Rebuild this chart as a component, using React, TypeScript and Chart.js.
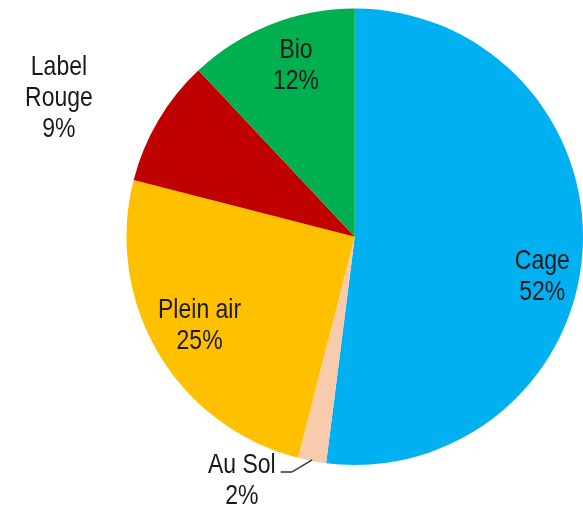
import React, { useEffect, useRef } from "react";
import { Chart, registerables } from "chart.js";

Chart.register(...registerables);

const categories = ["Cage", "Au Sol", "Plein air", "Label Rouge", "Bio"];
const labelLines = [["Cage"], ["Au Sol"], ["Plein air"], ["Label", "Rouge"], ["Bio"]];
const values = [52, 2, 25, 9, 12];
const colors = ["#00B0F0", "#F8CBAD", "#FFC000", "#C00000", "#00B050"];

// label placement (style): radius factor & angle offset (deg) relative to slice middle
const labelLayout = [
  { r: 0.84, dAngle: 8.4, leader: null as null | { r: number; dAngle: number; tail: number } },
  { r: 1.18, dAngle: 14, leader: { r: 1.067, dAngle: 4.2, tail: 11 } },
  { r: 0.785, dAngle: 0.6, leader: null },
  { r: 1.43, dAngle: -5.6, leader: null },
  { r: 0.79, dAngle: 2.6, leader: null },
];

const FONT = '23px "Liberation Sans", Arial, sans-serif';
const LINE_H = 31;
const STRETCH_Y = 1.2;

const labelPlugin = {
  id: "sliceLabels",
  afterDatasetsDraw(chart: any) {
    const ctx = chart.ctx;
    const meta = chart.getDatasetMeta(0);
    const data = chart.data.datasets[0].data as number[];
    const total = data.reduce((a, b) => a + b, 0);
    ctx.save();
    ctx.font = FONT;
    ctx.fillStyle = "#1a1a1a";
    ctx.textAlign = "center";
    ctx.textBaseline = "middle";
    meta.data.forEach((arc: any, i: number) => {
      const { x, y, startAngle, endAngle, outerRadius } = arc.getProps(
        ["x", "y", "startAngle", "endAngle", "outerRadius"],
        true
      );
      const mid = (startAngle + endAngle) / 2;
      const lay = labelLayout[i];
      const a = mid + (lay.dAngle * Math.PI) / 180;
      const lx = x + Math.cos(a) * outerRadius * lay.r;
      const ly = y + Math.sin(a) * outerRadius * lay.r;
      const pct = Math.round((data[i] / total) * 100) + "%";
      const lines = [...labelLines[i], pct];
      const h = (lines.length - 1) * LINE_H;
      lines.forEach((t, k) => {
        ctx.save();
        ctx.translate(lx, ly - h / 2 + k * LINE_H);
        ctx.scale(1, STRETCH_Y);
        ctx.fillText(t, 0, 0);
        ctx.restore();
      });
      if (lay.leader) {
        const sx = x + Math.cos(mid) * outerRadius * 0.995;
        const sy = y + Math.sin(mid) * outerRadius * 0.995;
        const la = mid + (lay.leader.dAngle * Math.PI) / 180;
        const ex = x + Math.cos(la) * outerRadius * lay.leader.r;
        const ey = y + Math.sin(la) * outerRadius * lay.leader.r;
        ctx.beginPath();
        ctx.strokeStyle = "#333333";
        ctx.lineWidth = 1.4;
        ctx.moveTo(sx, sy);
        ctx.lineTo(ex, ey);
        ctx.lineTo(ex - lay.leader.tail, ey);
        ctx.stroke();
      }
    });
    ctx.restore();
  },
};

export default function App() {
  const ref = useRef<HTMLCanvasElement | null>(null);
  useEffect(() => {
    if (!ref.current) return;
    const chart = new Chart(ref.current, {
      type: "pie",
      data: {
        labels: categories,
        datasets: [
          {
            data: values,
            backgroundColor: colors,
            borderWidth: 0,
          },
        ],
      },
      options: {
        responsive: false,
        animation: false,
        devicePixelRatio: 1,
        layout: { padding: { left: 126.5, right: 0, top: 8, bottom: 45.5 } },
        plugins: {
          legend: { display: false },
          tooltip: { enabled: false },
        },
      },
      plugins: [labelPlugin],
    });
    return () => chart.destroy();
  }, []);
  return (
    <div style={{ position: "absolute", left: 0, top: 0, width: 583, height: 511, background: "#fff" }}>
      <canvas ref={ref} width={583} height={511} />
    </div>
  );
}
